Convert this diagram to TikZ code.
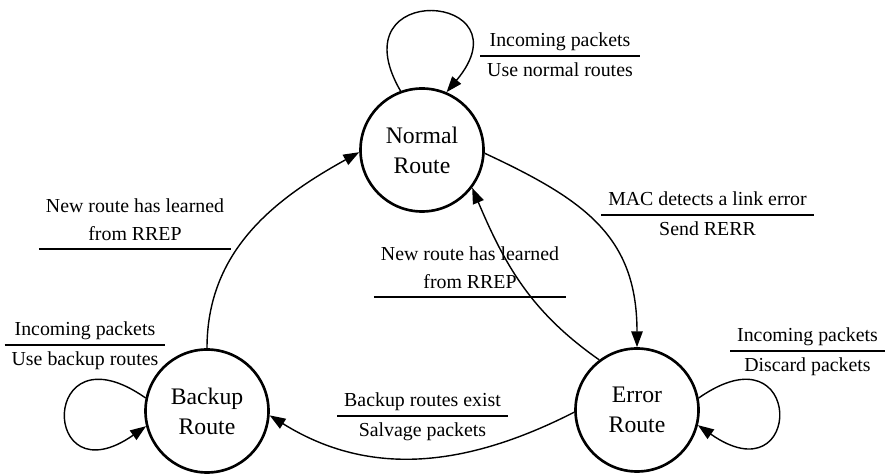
\documentclass[tikz,border=0pt]{standalone}
\usepackage{fontspec}
\setmainfont{Liberation Serif}
\usetikzlibrary{arrows.meta}
\setlength{\arrayrulewidth}{1.1pt}
\setlength{\tabcolsep}{4pt}
\renewcommand{\arraystretch}{1.15}
\newcommand{\trlabel}[2]{\begin{tabular}{c}#1\\\hline #2\end{tabular}}

\begin{document}
\begin{tikzpicture}[>={Triangle[length=9pt,width=6.5pt]},line width=0.8pt,
  font=\fontsize{11.3}{13.6}\selectfont,
  state/.style={circle,draw,line width=1.5pt,minimum size=2.46cm,inner sep=0pt,
    align=center,font=\fontsize{13.5}{17}\selectfont},
  lbl/.style={inner sep=0pt}]
\useasboundingbox (0,0) rectangle (17.7,9.5);
\node[state] (normal) at (8.44,6.50) {Normal\\Route};
\node[state] (backup) at (4.14,1.28) {Backup\\Route};
\node[state] (error) at (12.74,1.30) {Error\\Route};
% self loops
\draw[->] (normal.110) .. controls +(120:2.6) and +(50:2.6) .. (normal.67);
\draw[->] (backup.168) .. controls +(145:2.6) and +(215:2.6) .. (backup.194);
\draw[->] (error.11) .. controls +(35:2.6) and +(-35:2.6) .. (error.-14);
% transitions
\draw[->] (normal.-3) to[out=-25,in=90,looseness=1.15] (error.north);
\draw[->] (error.127) to[out=145,in=-67] (normal.-37);
\draw[->] (error.182) to[out=207,in=-32] (backup.-4);
\draw[->] (backup.north) to[out=90,in=209] (normal.182);
% conditions / actions
\node[lbl] (lnormal) at (11.20,8.38) {\trlabel{Incoming packets}{Use normal routes}};
\node[lbl] (lbackup) at (1.70,2.60) {\trlabel{Incoming packets}{Use backup routes}};
\node[lbl] (lerror) at (16.15,2.48) {\trlabel{Incoming packets}{Discard packets}};
\node[lbl] (lmac) at (14.15,5.20) {\trlabel{MAC detects a link error}{Send RERR}};
\node[lbl] (lsalvage) at (8.45,1.18) {\trlabel{Backup routes exist}{Salvage packets}};
\node[lbl,anchor=south] (lrrepa) at (2.70,4.48)
  {\begin{tabular}{c}New route has learned\\from RREP\\\hline\end{tabular}};
\node[lbl,anchor=south] (lrrepb) at (9.40,3.52)
  {\begin{tabular}{c}New route has learned\\from RREP\\\hline\end{tabular}};
\end{tikzpicture}
\end{document}
